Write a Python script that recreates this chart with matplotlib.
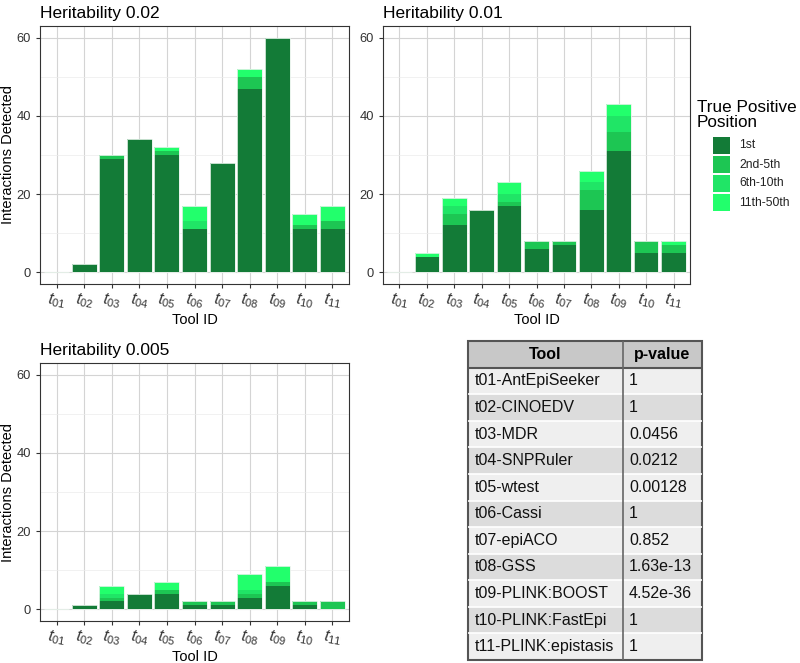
import matplotlib
matplotlib.use("Agg")
import matplotlib.pyplot as plt
from matplotlib.patches import Rectangle
import numpy as np

plt.rcParams['font.family'] = ['Liberation Sans', 'DejaVu Sans']
plt.rcParams['mathtext.fontset'] = 'custom'
plt.rcParams['mathtext.it'] = 'Liberation Sans:italic'
plt.rcParams['mathtext.rm'] = 'Liberation Sans'

# ---------------- data ----------------
tool_ids = ['01', '02', '03', '04', '05', '06', '07', '08', '09', '10', '11']
positions = ['1st', '2nd-5th', '6th-10th', '11th-50th']
pos_colors = ['#137B37', '#1DC653', '#20E566', '#22FF6C']

h002_1st = [0, 2, 29, 34, 30, 11, 28, 47, 60, 11, 11]
h002_2to5 = [0, 0, 1, 0, 1, 0, 0, 3, 0, 1, 2]
h002_6to10 = [0, 0, 0, 0, 0, 2, 0, 0, 0, 0, 0]
h002_11to50 = [0, 0, 0, 0, 1, 4, 0, 2, 0, 3, 4]

h001_1st = [0, 4, 12, 16, 17, 6, 7, 16, 31, 5, 5]
h001_2to5 = [0, 0, 3, 0, 1, 2, 1, 5, 5, 3, 2]
h001_6to10 = [0, 0, 2, 0, 2, 0, 0, 2, 4, 0, 0]
h001_11to50 = [0, 1, 2, 0, 3, 0, 0, 3, 3, 0, 1]

h0005_1st = [0, 1, 2, 4, 4, 1, 1, 3, 6, 1, 0]
h0005_2to5 = [0, 0, 1, 0, 1, 1, 1, 1, 1, 1, 2]
h0005_6to10 = [0, 0, 1, 0, 0, 0, 0, 1, 0, 0, 0]
h0005_11to50 = [0, 0, 2, 0, 2, 0, 0, 4, 4, 0, 0]

panel_titles = ['Heritability 0.02', 'Heritability 0.01', 'Heritability 0.005']

table_tools = ['t01-AntEpiSeeker', 't02-CINOEDV', 't03-MDR', 't04-SNPRuler',
               't05-wtest', 't06-Cassi', 't07-epiACO', 't08-GSS',
               't09-PLINK:BOOST', 't10-PLINK:FastEpi', 't11-PLINK:epistasis']
table_pvalues = ['1', '1', '0.0456', '0.0212', '0.00128', '1', '0.852',
                 '1.63e-13', '4.52e-36', '1', '1']

# ---------------- figure ----------------
W, H = 800, 663
fig = plt.figure(figsize=(W / 100, H / 100), dpi=100)


def px_axes(l, t, r, b):
    return fig.add_axes([l / W, 1 - b / H, (r - l) / W, (b - t) / H])


def draw_panel(ax, title, layers):
    x = np.arange(1, len(tool_ids) + 1)
    bottom = np.zeros(len(tool_ids))
    for vals, col in zip(layers, pos_colors):
        v = np.array(vals, dtype=float)
        ax.bar(x, v, width=0.9, bottom=bottom, color=col, edgecolor='none', zorder=3)
        bottom += v
    ax.bar(x, bottom, width=0.9, fill=False, edgecolor='#e6f2ea', linewidth=0.6, zorder=4)
    ax.set_xlim(0.4, 11.6)
    ax.set_ylim(-3, 63)
    ax.set_yticks([0, 20, 40, 60])
    ax.set_yticks([10, 30, 50], minor=True)
    ax.set_xticks(x)
    ax.set_xticklabels([r'$\mathit{t}_{\mathit{%s}}$' % t for t in tool_ids],
                       rotation=-10, ha='center')
    ax.grid(True, which='major', color='#d4d4d4', linewidth=0.8, zorder=0)
    ax.grid(True, which='minor', axis='y', color='#ebebeb', linewidth=0.5, zorder=0)
    ax.tick_params(axis='both', which='major', length=3, color='#333333',
                   labelcolor='#333333', labelsize=9.3)
    ax.tick_params(axis='x', pad=2, labelsize=11.5)
    ax.tick_params(which='minor', length=0)
    for s in ax.spines.values():
        s.set_color('#333333')
        s.set_linewidth(0.8)
    ax.set_xlabel('Tool ID', fontsize=10.5, labelpad=1)
    ax.set_ylabel('Interactions Detected', fontsize=10.5, labelpad=1)
    ax.set_title(title, loc='left', fontsize=12.5, pad=6)


ax1 = px_axes(40, 26, 349, 284)
draw_panel(ax1, panel_titles[0], [h002_1st, h002_2to5, h002_6to10, h002_11to50])
ax2 = px_axes(383, 26, 690, 284)
draw_panel(ax2, panel_titles[1], [h001_1st, h001_2to5, h001_6to10, h001_11to50])
ax2.set_ylabel('')
ax3 = px_axes(40, 363, 349, 621)
draw_panel(ax3, panel_titles[2], [h0005_1st, h0005_2to5, h0005_6to10, h0005_11to50])

# ---------------- legend ----------------
fig.text(697 / W, 1 - 115 / H, 'True Positive\nPosition', fontsize=12.3,
         ha='left', va='center', linespacing=1.0)
for i, (lab, col) in enumerate(zip(positions, pos_colors)):
    top = 137 + i * 19
    fig.patches.append(Rectangle((713 / W, 1 - (top + 17) / H), 17 / W, 17 / H,
                                 transform=fig.transFigure, facecolor=col,
                                 edgecolor='none'))
    fig.text(739 / W, 1 - (top + 8.5) / H, lab, fontsize=8.7, ha='left',
             va='center', color='#222222')

# ---------------- table ----------------
tl, tt, tr, tb = 468, 341, 702, 660
tax = px_axes(tl, tt, tr, tb)
tw, th = tr - tl, tb - tt
tax.set_xlim(0, tw)
tax.set_ylim(th, 0)
tax.axis('off')
col_split = 623 - tl
nrows = len(table_tools) + 1
rh = th / nrows
tax.add_patch(Rectangle((0, 0), tw, rh, facecolor='#c8c8c8', edgecolor='none'))
tax.text(col_split / 2, rh / 2, 'Tool', fontsize=11.5, fontweight='bold',
         ha='center', va='center')
tax.text((col_split + tw) / 2, rh / 2, 'p-value', fontsize=11.5, fontweight='bold',
         ha='center', va='center')
for i, (tool, pv) in enumerate(zip(table_tools, table_pvalues)):
    y0 = (i + 1) * rh
    bg = '#efefef' if i % 2 == 0 else '#dcdcdc'
    tax.add_patch(Rectangle((0, y0), tw, rh, facecolor=bg, edgecolor='none'))
    if i > 0:
        tax.plot([0, tw], [y0, y0], color='white', linewidth=1.2)
    tax.text(7, y0 + rh / 2, tool, fontsize=11.5, ha='left', va='center', color='#111111')
    tax.text(col_split + 6, y0 + rh / 2, pv, fontsize=11.5, ha='left', va='center',
             color='#111111')
tax.plot([0, tw], [rh, rh], color='#555555', linewidth=1.5)
tax.plot([col_split, col_split], [0, th], color='#666666', linewidth=1.2)
tax.add_patch(Rectangle((0, 0), tw, th, facecolor='none', edgecolor='#555555',
                        linewidth=1.5, clip_on=False))

fig.savefig('out.png', dpi=100)
